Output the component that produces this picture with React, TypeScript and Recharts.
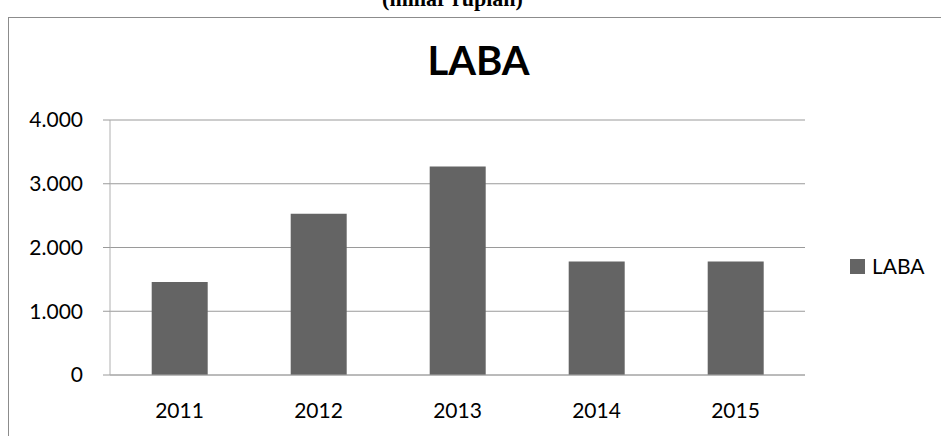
import { BarChart, Bar, XAxis, YAxis, CartesianGrid } from 'recharts';

const years = ['2011', '2012', '2013', '2014', '2015'];
const laba = [1460, 2530, 3270, 1780, 1780];
const yTicks = [0, 1000, 2000, 3000, 4000];
const boundaryTicks = [0, 1, 2, 3, 4, 5];

const data = years.map((year, i) => ({ year, laba: laba[i] }));

// Indonesian style thousands separator: 4.000
const formatId = (v: number) => (v === 0 ? '0' : String(v).replace(/\B(?=(\d{3})+(?!\d))/g, '.'));

const font = 'Lato, "Open Sans", sans-serif';

export default function App() {
  return (
    <div style={{ position: 'absolute', left: 0, top: 0, width: 941, height: 436, overflow: 'hidden', background: '#fff' }}>
      <div
        style={{
          position: 'absolute',
          left: 0,
          width: 905,
          top: -12,
          textAlign: 'center',
          fontFamily: '"Liberation Serif", "Times New Roman", serif',
          fontWeight: 'bold',
          fontSize: 22,
          lineHeight: '22px',
        }}
      >
        (miliar rupiah)
      </div>
      <div
        style={{
          position: 'absolute',
          left: 8,
          top: 17,
          width: 960,
          height: 440,
          border: '1px solid #8c8c8c',
          background: '#fff',
        }}
      />
      <div
        style={{
          position: 'absolute',
          left: 0,
          width: 941,
          top: 36,
          textAlign: 'center',
          fontFamily: font,
          fontWeight: 'bold',
          fontSize: 40,
          lineHeight: '48px',
        }}
      >
        <span style={{ position: 'relative', left: 8 }}>LABA</span>
      </div>
      <div style={{ position: 'absolute', left: 0, top: 0 }}>
        <BarChart
          width={941}
          height={436}
          data={data}
          margin={{ top: 120, right: 136, left: 50, bottom: 21 }}
          barCategoryGap="30%"
        >
          <CartesianGrid horizontal vertical={false} stroke="#9a9a9a" />
          <XAxis
            xAxisId="edges"
            type="number"
            domain={[0, 5]}
            ticks={boundaryTicks}
            height={0}
            axisLine={false}
            tickSize={7}
            tickLine={{ stroke: '#a8a8a8' }}
            tick={false}
          />
          <XAxis
            dataKey="year"
            xAxisId="cat"
            height={40}
            tickLine={false}
            tickSize={0}
            tickMargin={28}
            axisLine={{ stroke: '#a8a8a8' }}
            tick={{ fill: '#000', fontSize: 21, fontFamily: font }}
          />
          <YAxis
            width={60}
            domain={[0, 4000]}
            ticks={yTicks}
            tickFormatter={formatId}
            tickSize={7}
            tickMargin={20}
            axisLine={{ stroke: '#b0b0b0' }}
            tickLine={{ stroke: '#9a9a9a' }}
            tick={{ fill: '#000', fontSize: 21, fontFamily: font }}
          />
          <Bar dataKey="laba" name="LABA" xAxisId="cat" fill="#646464" isAnimationActive={false} />
        </BarChart>
      </div>
      <div
        style={{
          position: 'absolute',
          left: 850,
          top: 255,
          display: 'flex',
          alignItems: 'center',
          fontFamily: font,
          fontSize: 21,
          lineHeight: '22px',
          color: '#000',
        }}
      >
        <span style={{ display: 'inline-block', width: 15, height: 15, background: '#646464', marginRight: 7 }} />
        <span>LABA</span>
      </div>
    </div>
  );
}
